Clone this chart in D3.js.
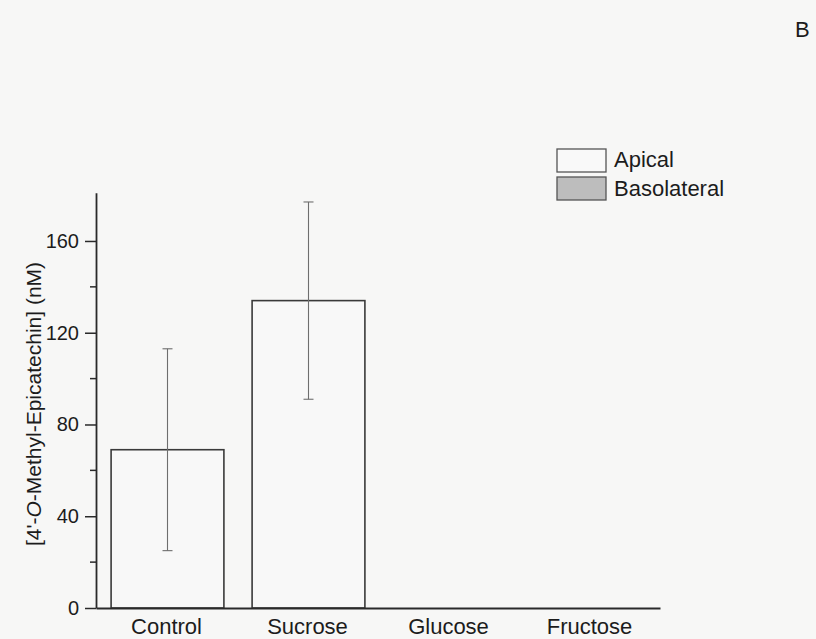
<!DOCTYPE html>
<html lang="en">
<head>
    <meta charset="UTF-8">
    <script src="https://d3js.org/d3.v7.min.js"></script>
    <style>
        body { margin: 0; background: #f7f7f6; }
        text { font-family: "Liberation Sans", Arial, sans-serif; fill: #1c1c1c; }
    </style>
</head>
<body>
<div id="chart"></div>
<script>
    // data
    var categories = ["Control", "Sucrose", "Glucose", "Fructose"];
    var apical = [69, 134, null, null];
    var apicalErr = [44, 43, null, null];
    var basolateral = [null, null, null, null];
    var yTicks = [0, 40, 80, 120, 160];
    var yMinor = [20, 60, 100, 140];
    var legendLabels = ["Apical", "Basolateral"];

    var W = 816, H = 639;
    var x0 = 96, x1 = 660, yBase = 608;

    var svg = d3.select("#chart").append("svg")
        .attr("width", W).attr("height", H);

    svg.append("rect").attr("width", W).attr("height", H).attr("fill", "#f7f7f6");

    var x = d3.scaleBand().domain(categories).range([x0, x1]).padding(0);
    var y = d3.scaleLinear().domain([0, 181]).range([yBase, 192.8]);

    var barW = x.bandwidth() * 0.8;

    // apical bars
    svg.selectAll("rect.apical")
        .data(categories.map(function(c, i) { return {c: c, v: apical[i], e: apicalErr[i]}; })
            .filter(function(d) { return d.v != null; }))
        .enter().append("rect")
        .attr("class", "apical")
        .attr("x", function(d) { return x(d.c) + x.bandwidth() / 2 - barW / 2 + 1; })
        .attr("y", function(d) { return y(d.v); })
        .attr("width", barW)
        .attr("height", function(d) { return yBase - y(d.v); })
        .attr("fill", "#f8f8f8")
        .attr("stroke", "#3a3a3a")
        .attr("stroke-width", 1.6);

    // basolateral bars (none visible)
    svg.selectAll("rect.baso")
        .data(categories.map(function(c, i) { return {c: c, v: basolateral[i]}; })
            .filter(function(d) { return d.v != null; }))
        .enter().append("rect")
        .attr("class", "baso")
        .attr("x", function(d) { return x(d.c) + x.bandwidth() / 2 - barW / 2; })
        .attr("y", function(d) { return y(d.v); })
        .attr("width", barW)
        .attr("height", function(d) { return yBase - y(d.v); })
        .attr("fill", "#bdbdbd")
        .attr("stroke", "#3a3a3a");

    // error bars
    var errs = categories.map(function(c, i) { return {c: c, v: apical[i], e: apicalErr[i]}; })
        .filter(function(d) { return d.v != null && d.e != null; });
    var eg = svg.selectAll("g.err").data(errs).enter().append("g")
        .attr("stroke", "#6e6e6e").attr("stroke-width", 1.1);
    eg.append("line")
        .attr("x1", function(d) { return x(d.c) + x.bandwidth() / 2 + 1; })
        .attr("x2", function(d) { return x(d.c) + x.bandwidth() / 2 + 1; })
        .attr("y1", function(d) { return y(d.v + d.e); })
        .attr("y2", function(d) { return y(d.v - d.e); });
    [1, -1].forEach(function(s) {
        eg.append("line")
            .attr("x1", function(d) { return x(d.c) + x.bandwidth() / 2 - 4; })
            .attr("x2", function(d) { return x(d.c) + x.bandwidth() / 2 + 6; })
            .attr("y1", function(d) { return y(d.v + s * d.e); })
            .attr("y2", function(d) { return y(d.v + s * d.e); });
    });

    // y axis
    var yAxis = svg.append("g")
        .attr("transform", "translate(" + x0 + ",0)")
        .call(d3.axisLeft(y).tickValues(yTicks).tickSize(11).tickPadding(6).tickSizeOuter(0));
    yAxis.select(".domain").attr("stroke", "#2a2a2a").attr("stroke-width", 1.8);
    yAxis.selectAll(".tick line").attr("stroke", "#2a2a2a").attr("stroke-width", 1.5);
    yAxis.selectAll(".tick text").attr("font-size", 20).attr("fill", "#1c1c1c")
        .attr("font-family", "Liberation Sans, Arial, sans-serif");

    svg.append("g").selectAll("line").data(yMinor).enter().append("line")
        .attr("x1", x0 - 6).attr("x2", x0)
        .attr("y1", function(d) { return y(d); }).attr("y2", function(d) { return y(d); })
        .attr("stroke", "#2a2a2a").attr("stroke-width", 1.5);

    // x axis
    var xAxis = svg.append("g")
        .attr("transform", "translate(0," + yBase + ")")
        .call(d3.axisBottom(x).tickSize(0).tickPadding(10));
    xAxis.select(".domain").attr("stroke", "#2a2a2a").attr("stroke-width", 1.8);
    xAxis.selectAll(".tick text").attr("font-size", 22).attr("fill", "#1c1c1c")
        .attr("font-family", "Liberation Sans, Arial, sans-serif");

    // y label
    var yl = svg.append("text")
        .attr("transform", "translate(41," + 404 + ") rotate(-90)")
        .attr("text-anchor", "middle")
        .attr("font-size", 21);
    yl.append("tspan").text("[4'-");
    yl.append("tspan").attr("font-style", "italic").text("O");
    yl.append("tspan").text("-Methyl-Epicatechin] (nM)");

    // legend
    var lg = svg.append("g").attr("transform", "translate(557,149)");
    lg.selectAll("rect").data(legendLabels).enter().append("rect")
        .attr("x", 0).attr("y", function(d, i) { return i * 28; })
        .attr("width", 49).attr("height", 23)
        .attr("fill", function(d, i) { return i === 0 ? "#f9f9f9" : "#bdbdbd"; })
        .attr("stroke", "#555").attr("stroke-width", 1.3);
    lg.selectAll("text").data(legendLabels).enter().append("text")
        .attr("x", 57).attr("y", function(d, i) { return 18 + i * 29; })
        .attr("font-size", 22)
        .text(function(d) { return d; });

    // panel letter
    svg.append("text").attr("x", 795).attr("y", 37).attr("font-size", 22).text("B");
</script>
</body>
</html>
